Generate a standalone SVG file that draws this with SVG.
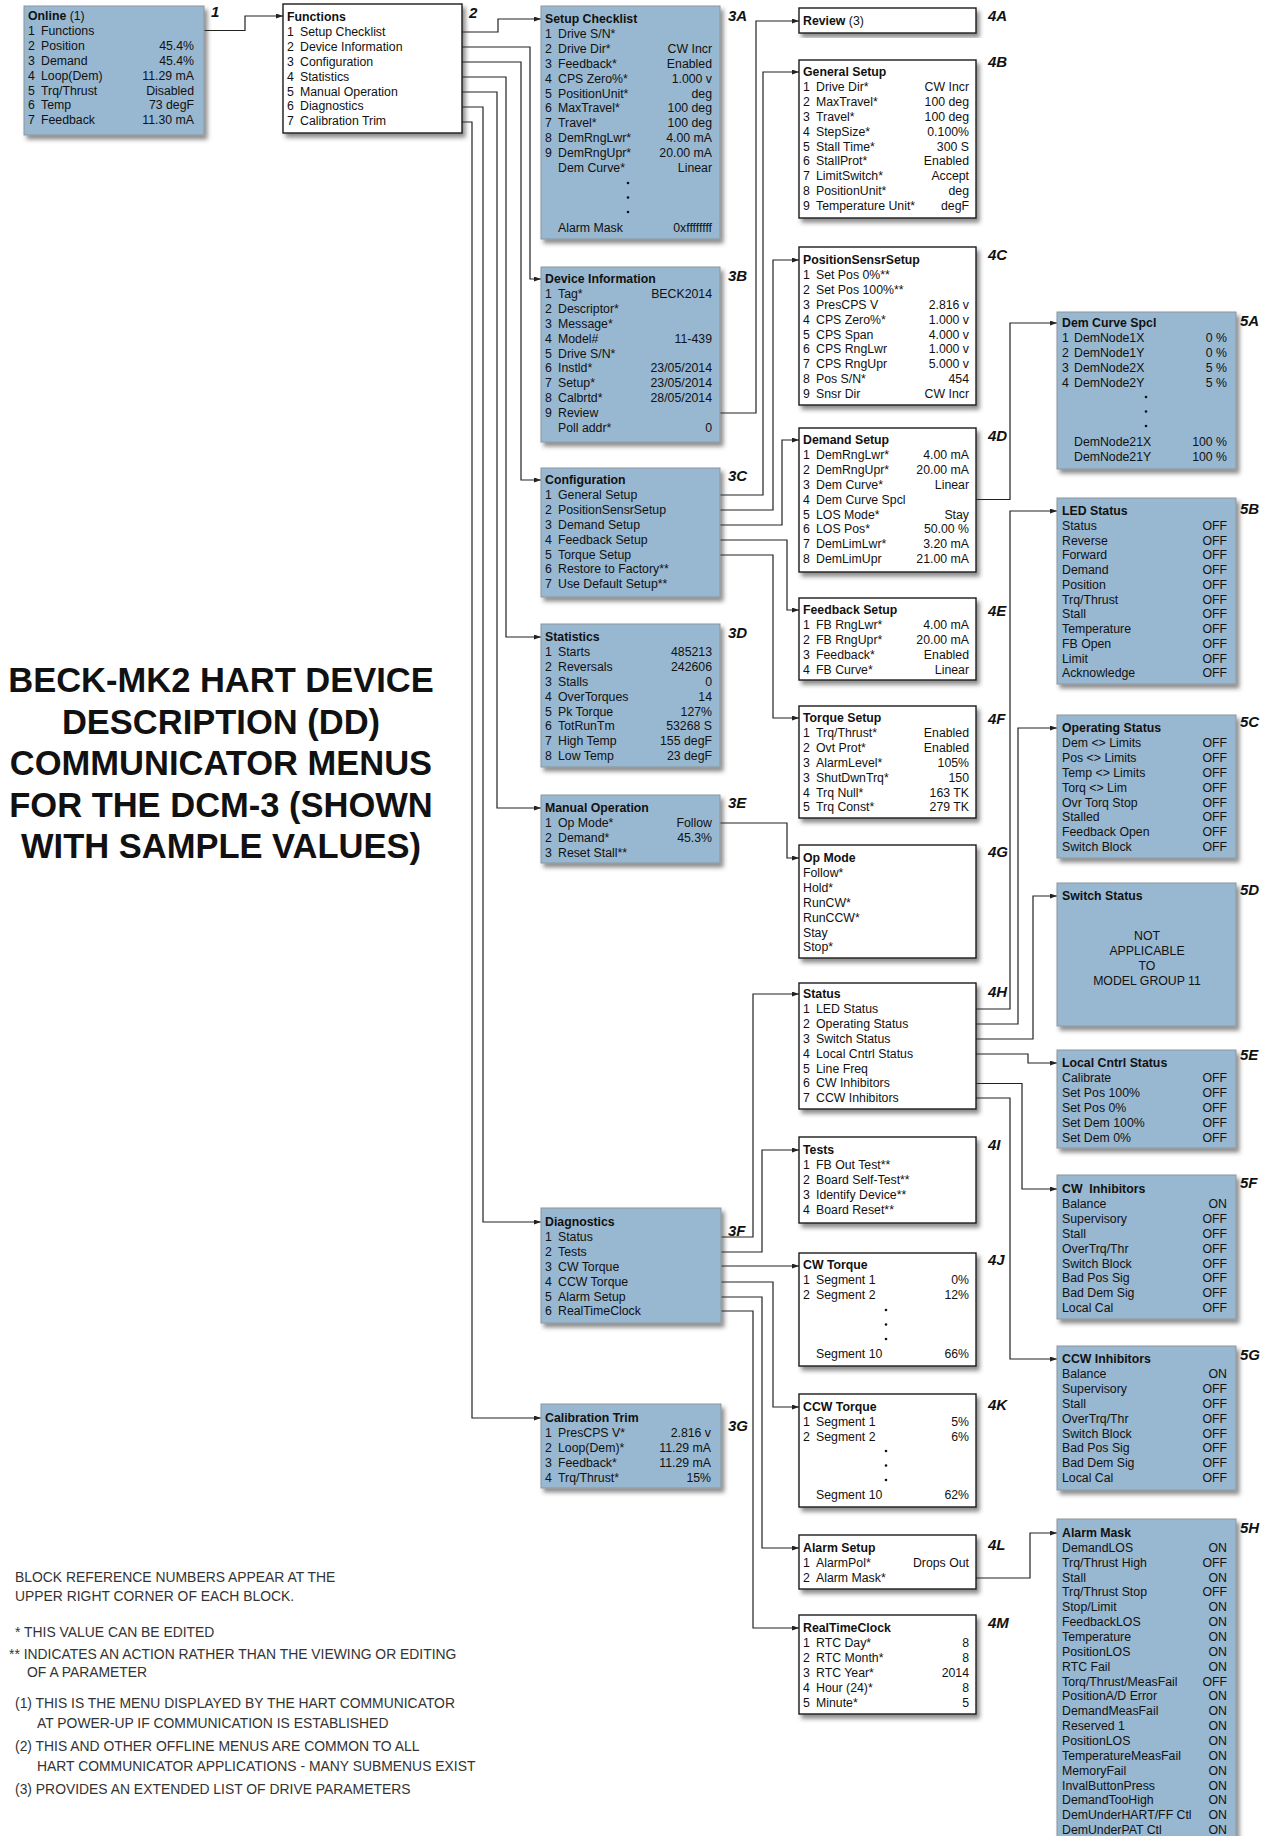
<svg xmlns="http://www.w3.org/2000/svg" width="1273" height="1836" viewBox="0 0 1273 1836">
<style>
text{font-family:"Liberation Sans",Arial,Helvetica,sans-serif;font-size:12.3px;fill:#111}
.bb{fill:#98b7d0;stroke:#8d969d;stroke-width:1}
.wb{fill:#fff;stroke:#1a1a1a;stroke-width:1.4}
.h{font-weight:bold}
.r{text-anchor:end}
.c{text-anchor:middle}
.lb{font-weight:bold;font-style:italic;font-size:15px}
.ttl{font-size:34.5px;font-weight:bold;text-anchor:middle;fill:#111}
.nt{font-size:13.9px;fill:#333}
.cn path{fill:none;stroke:#222;stroke-width:1.2;marker-end:url(#ar)}
</style>
<defs>
<filter id="sh" x="-10%" y="-10%" width="130%" height="130%">
<feDropShadow dx="3" dy="4" stdDeviation="2" flood-color="#333" flood-opacity="0.55"/>
</filter>
<marker id="ar" markerWidth="7" markerHeight="5" refX="7" refY="2.5" orient="auto" markerUnits="userSpaceOnUse">
<path d="M0,0 L7,2.5 L0,5 z" fill="#222"/>
</marker>
</defs>
<rect width="1273" height="1836" fill="#fff"/>

<!-- connectors -->
<g id="connectors" class="cn">
<path d="M204,30.5 H245 V16 H283"/>
<path d="M462,32 H498 V19 H541"/>
<path d="M462,47 H530 V279 H541"/>
<path d="M462,62 H521 V480 H541"/>
<path d="M462,77 H506 V637 H541"/>
<path d="M462,92 H497 V808 H541"/>
<path d="M462,107 H483 V1222 H541"/>
<path d="M462,122 H472 V1418 H541"/>
<path d="M720,413 H756 V21 H799"/>
<path d="M720,495 H763 V72 H799"/>
<path d="M720,510 H773 V260 H799"/>
<path d="M720,525 H782 V440 H799"/>
<path d="M720,540 H787 V610 H799"/>
<path d="M720,555 H773 V718 H799"/>
<path d="M720,823 H787 V858 H799"/>
<path d="M721,1237 H753 V994 H799"/>
<path d="M721,1252 H762 V1150 H799"/>
<path d="M721,1266 H799"/>
<path d="M721,1282 H773 V1407 H799"/>
<path d="M721,1297 H762 V1548 H799"/>
<path d="M721,1311 H753 V1628 H799"/>
<path d="M976,499.5 H1010 V323 H1057"/>
<path d="M976,1009 H1010 V511 H1057"/>
<path d="M976,1024 H1018 V728 H1057"/>
<path d="M976,1039 H1033 V896 H1057"/>
<path d="M976,1054 H1028 V1063 H1057"/>
<path d="M976,1083.5 H1022 V1189 H1057"/>
<path d="M976,1098 H1010 V1359 H1057"/>
<path d="M976,1578 H1030 V1533 H1057"/>
</g>

<!-- 1 Online -->
<g id="n1">
<rect class="bb" x="24" y="6" width="180" height="129" filter="url(#sh)"/>
<text x="28" y="20"><tspan class="h">Online</tspan> (1)</text>
<text x="28" y="34.9">1</text><text x="41" y="34.9">Functions</text>
<text x="28" y="49.8">2</text><text x="41" y="49.8">Position</text><text class="r" x="194" y="49.8">45.4%</text>
<text x="28" y="64.7">3</text><text x="41" y="64.7">Demand</text><text class="r" x="194" y="64.7">45.4%</text>
<text x="28" y="79.6">4</text><text x="41" y="79.6">Loop(Dem)</text><text class="r" x="194" y="79.6">11.29 mA</text>
<text x="28" y="94.5">5</text><text x="41" y="94.5">Trq/Thrust</text><text class="r" x="194" y="94.5">Disabled</text>
<text x="28" y="109.4">6</text><text x="41" y="109.4">Temp</text><text class="r" x="194" y="109.4">73 degF</text>
<text x="28" y="124.3">7</text><text x="41" y="124.3">Feedback</text><text class="r" x="194" y="124.3">11.30 mA</text>
<text class="lb" x="211" y="17">1</text>
</g>

<!-- 2 Functions -->
<g id="n2">
<rect class="wb" x="283" y="4" width="179" height="129" filter="url(#sh)"/>
<text class="h" x="287" y="21">Functions</text>
<text x="287" y="35.9">1</text><text x="300" y="35.9">Setup Checklist</text>
<text x="287" y="50.8">2</text><text x="300" y="50.8">Device Information</text>
<text x="287" y="65.7">3</text><text x="300" y="65.7">Configuration</text>
<text x="287" y="80.6">4</text><text x="300" y="80.6">Statistics</text>
<text x="287" y="95.5">5</text><text x="300" y="95.5">Manual Operation</text>
<text x="287" y="110.4">6</text><text x="300" y="110.4">Diagnostics</text>
<text x="287" y="125.3">7</text><text x="300" y="125.3">Calibration Trim</text>
<text class="lb" x="469" y="18">2</text>
</g>

<!-- 3A Setup Checklist -->
<g id="n3A">
<rect class="bb" x="541" y="6" width="179" height="233" filter="url(#sh)"/>
<text class="h" x="545" y="23">Setup Checklist</text>
<text x="545" y="37.9">1</text><text x="558" y="37.9">Drive S/N*</text>
<text x="545" y="52.8">2</text><text x="558" y="52.8">Drive Dir*</text><text class="r" x="712" y="52.8">CW Incr</text>
<text x="545" y="67.7">3</text><text x="558" y="67.7">Feedback*</text><text class="r" x="712" y="67.7">Enabled</text>
<text x="545" y="82.6">4</text><text x="558" y="82.6">CPS Zero%*</text><text class="r" x="712" y="82.6">1.000 v</text>
<text x="545" y="97.5">5</text><text x="558" y="97.5">PositionUnit*</text><text class="r" x="712" y="97.5">deg</text>
<text x="545" y="112.4">6</text><text x="558" y="112.4">MaxTravel*</text><text class="r" x="712" y="112.4">100 deg</text>
<text x="545" y="127.3">7</text><text x="558" y="127.3">Travel*</text><text class="r" x="712" y="127.3">100 deg</text>
<text x="545" y="142.2">8</text><text x="558" y="142.2">DemRngLwr*</text><text class="r" x="712" y="142.2">4.00 mA</text>
<text x="545" y="157.1">9</text><text x="558" y="157.1">DemRngUpr*</text><text class="r" x="712" y="157.1">20.00 mA</text>
<text x="558" y="172">Dem Curve*</text><text class="r" x="712" y="172">Linear</text>
<circle cx="628" cy="183" r="1.3" fill="#111"/><circle cx="628" cy="197.5" r="1.3" fill="#111"/><circle cx="628" cy="212" r="1.3" fill="#111"/>
<text x="558" y="232">Alarm Mask</text><text class="r" x="712" y="232">0xffffffff</text>
<text class="lb" x="728" y="21">3A</text>
</g>

<!-- 3B Device Information -->
<g id="n3B">
<rect class="bb" x="541" y="267" width="179" height="175" filter="url(#sh)"/>
<text class="h" x="545" y="283">Device Information</text>
<text x="545" y="297.9">1</text><text x="558" y="297.9">Tag*</text><text class="r" x="712" y="297.9">BECK2014</text>
<text x="545" y="312.8">2</text><text x="558" y="312.8">Descriptor*</text>
<text x="545" y="327.7">3</text><text x="558" y="327.7">Message*</text>
<text x="545" y="342.6">4</text><text x="558" y="342.6">Model#</text><text class="r" x="712" y="342.6">11-439</text>
<text x="545" y="357.5">5</text><text x="558" y="357.5">Drive S/N*</text>
<text x="545" y="372.4">6</text><text x="558" y="372.4">Instld*</text><text class="r" x="712" y="372.4">23/05/2014</text>
<text x="545" y="387.3">7</text><text x="558" y="387.3">Setup*</text><text class="r" x="712" y="387.3">23/05/2014</text>
<text x="545" y="402.2">8</text><text x="558" y="402.2">Calbrtd*</text><text class="r" x="712" y="402.2">28/05/2014</text>
<text x="545" y="417.1">9</text><text x="558" y="417.1">Review</text>
<text x="558" y="432">Poll addr*</text><text class="r" x="712" y="432">0</text>
<text class="lb" x="728" y="281">3B</text>
</g>

<!-- 3C Configuration -->
<g id="n3C">
<rect class="bb" x="541" y="468" width="179" height="129" filter="url(#sh)"/>
<text class="h" x="545" y="484">Configuration</text>
<text x="545" y="498.9">1</text><text x="558" y="498.9">General Setup</text>
<text x="545" y="513.8">2</text><text x="558" y="513.8">PositionSensrSetup</text>
<text x="545" y="528.7">3</text><text x="558" y="528.7">Demand Setup</text>
<text x="545" y="543.6">4</text><text x="558" y="543.6">Feedback Setup</text>
<text x="545" y="558.5">5</text><text x="558" y="558.5">Torque Setup</text>
<text x="545" y="573.4">6</text><text x="558" y="573.4">Restore to Factory**</text>
<text x="545" y="588.3">7</text><text x="558" y="588.3">Use Default Setup**</text>
<text class="lb" x="728" y="481">3C</text>
</g>

<!-- 3D Statistics -->
<g id="n3D">
<rect class="bb" x="541" y="624" width="179" height="143" filter="url(#sh)"/>
<text class="h" x="545" y="641">Statistics</text>
<text x="545" y="655.9">1</text><text x="558" y="655.9">Starts</text><text class="r" x="712" y="655.9">485213</text>
<text x="545" y="670.8">2</text><text x="558" y="670.8">Reversals</text><text class="r" x="712" y="670.8">242606</text>
<text x="545" y="685.7">3</text><text x="558" y="685.7">Stalls</text><text class="r" x="712" y="685.7">0</text>
<text x="545" y="700.6">4</text><text x="558" y="700.6">OverTorques</text><text class="r" x="712" y="700.6">14</text>
<text x="545" y="715.5">5</text><text x="558" y="715.5">Pk Torque</text><text class="r" x="712" y="715.5">127%</text>
<text x="545" y="730.4">6</text><text x="558" y="730.4">TotRunTm</text><text class="r" x="712" y="730.4">53268 S</text>
<text x="545" y="745.3">7</text><text x="558" y="745.3">High Temp</text><text class="r" x="712" y="745.3">155 degF</text>
<text x="545" y="760.2">8</text><text x="558" y="760.2">Low Temp</text><text class="r" x="712" y="760.2">23 degF</text>
<text class="lb" x="728" y="638">3D</text>
</g>

<!-- 3E Manual Operation -->
<g id="n3E">
<rect class="bb" x="541" y="795" width="179" height="68" filter="url(#sh)"/>
<text class="h" x="545" y="812">Manual Operation</text>
<text x="545" y="826.9">1</text><text x="558" y="826.9">Op Mode*</text><text class="r" x="712" y="826.9">Follow</text>
<text x="545" y="841.8">2</text><text x="558" y="841.8">Demand*</text><text class="r" x="712" y="841.8">45.3%</text>
<text x="545" y="856.7">3</text><text x="558" y="856.7">Reset Stall**</text>
<text class="lb" x="728" y="808">3E</text>
</g>

<!-- 3F Diagnostics -->
<g id="n3F">
<rect class="bb" x="541" y="1208" width="180" height="115" filter="url(#sh)"/>
<text class="h" x="545" y="1226">Diagnostics</text>
<text x="545" y="1240.9">1</text><text x="558" y="1240.9">Status</text>
<text x="545" y="1255.8">2</text><text x="558" y="1255.8">Tests</text>
<text x="545" y="1270.7">3</text><text x="558" y="1270.7">CW Torque</text>
<text x="545" y="1285.6">4</text><text x="558" y="1285.6">CCW Torque</text>
<text x="545" y="1300.5">5</text><text x="558" y="1300.5">Alarm Setup</text>
<text x="545" y="1315.4">6</text><text x="558" y="1315.4">RealTimeClock</text>
<text class="lb" x="728" y="1236">3F</text>
</g>

<!-- 3G Calibration Trim -->
<g id="n3G">
<rect class="bb" x="541" y="1404" width="180" height="84" filter="url(#sh)"/>
<text class="h" x="545" y="1422">Calibration Trim</text>
<text x="545" y="1436.9">1</text><text x="558" y="1436.9">PresCPS V*</text><text class="r" x="711" y="1436.9">2.816 v</text>
<text x="545" y="1451.8">2</text><text x="558" y="1451.8">Loop(Dem)*</text><text class="r" x="711" y="1451.8">11.29 mA</text>
<text x="545" y="1466.7">3</text><text x="558" y="1466.7">Feedback*</text><text class="r" x="711" y="1466.7">11.29 mA</text>
<text x="545" y="1481.6">4</text><text x="558" y="1481.6">Trq/Thrust*</text><text class="r" x="711" y="1481.6">15%</text>
<text class="lb" x="728" y="1431">3G</text>
</g>

<!-- 4A Review -->
<g id="n4A">
<rect class="wb" x="799" y="8" width="177" height="25" filter="url(#sh)"/>
<text x="803" y="25"><tspan class="h">Review</tspan> (3)</text>
<text class="lb" x="988" y="21">4A</text>
</g>

<!-- 4B General Setup -->
<g id="n4B">
<rect class="wb" x="799" y="60" width="177" height="158" filter="url(#sh)"/>
<text class="h" x="803" y="76">General Setup</text>
<text x="803" y="90.9">1</text><text x="816" y="90.9">Drive Dir*</text><text class="r" x="969" y="90.9">CW Incr</text>
<text x="803" y="105.8">2</text><text x="816" y="105.8">MaxTravel*</text><text class="r" x="969" y="105.8">100 deg</text>
<text x="803" y="120.7">3</text><text x="816" y="120.7">Travel*</text><text class="r" x="969" y="120.7">100 deg</text>
<text x="803" y="135.6">4</text><text x="816" y="135.6">StepSize*</text><text class="r" x="969" y="135.6">0.100%</text>
<text x="803" y="150.5">5</text><text x="816" y="150.5">Stall Time*</text><text class="r" x="969" y="150.5">300 S</text>
<text x="803" y="165.4">6</text><text x="816" y="165.4">StallProt*</text><text class="r" x="969" y="165.4">Enabled</text>
<text x="803" y="180.3">7</text><text x="816" y="180.3">LimitSwitch*</text><text class="r" x="969" y="180.3">Accept</text>
<text x="803" y="195.2">8</text><text x="816" y="195.2">PositionUnit*</text><text class="r" x="969" y="195.2">deg</text>
<text x="803" y="210.1">9</text><text x="816" y="210.1">Temperature Unit*</text><text class="r" x="969" y="210.1">degF</text>
<text class="lb" x="988" y="67">4B</text>
</g>

<!-- 4C PositionSensrSetup -->
<g id="n4C">
<rect class="wb" x="799" y="247" width="177" height="158" filter="url(#sh)"/>
<text class="h" x="803" y="264">PositionSensrSetup</text>
<text x="803" y="278.9">1</text><text x="816" y="278.9">Set Pos 0%**</text>
<text x="803" y="293.8">2</text><text x="816" y="293.8">Set Pos 100%**</text>
<text x="803" y="308.7">3</text><text x="816" y="308.7">PresCPS V</text><text class="r" x="969" y="308.7">2.816 v</text>
<text x="803" y="323.6">4</text><text x="816" y="323.6">CPS Zero%*</text><text class="r" x="969" y="323.6">1.000 v</text>
<text x="803" y="338.5">5</text><text x="816" y="338.5">CPS Span</text><text class="r" x="969" y="338.5">4.000 v</text>
<text x="803" y="353.4">6</text><text x="816" y="353.4">CPS RngLwr</text><text class="r" x="969" y="353.4">1.000 v</text>
<text x="803" y="368.3">7</text><text x="816" y="368.3">CPS RngUpr</text><text class="r" x="969" y="368.3">5.000 v</text>
<text x="803" y="383.2">8</text><text x="816" y="383.2">Pos S/N*</text><text class="r" x="969" y="383.2">454</text>
<text x="803" y="398.1">9</text><text x="816" y="398.1">Snsr Dir</text><text class="r" x="969" y="398.1">CW Incr</text>
<text class="lb" x="988" y="260">4C</text>
</g>

<!-- 4D Demand Setup -->
<g id="n4D">
<rect class="wb" x="799" y="428" width="177" height="144" filter="url(#sh)"/>
<text class="h" x="803" y="444">Demand Setup</text>
<text x="803" y="458.9">1</text><text x="816" y="458.9">DemRngLwr*</text><text class="r" x="969" y="458.9">4.00 mA</text>
<text x="803" y="473.8">2</text><text x="816" y="473.8">DemRngUpr*</text><text class="r" x="969" y="473.8">20.00 mA</text>
<text x="803" y="488.7">3</text><text x="816" y="488.7">Dem Curve*</text><text class="r" x="969" y="488.7">Linear</text>
<text x="803" y="503.6">4</text><text x="816" y="503.6">Dem Curve Spcl</text>
<text x="803" y="518.5">5</text><text x="816" y="518.5">LOS Mode*</text><text class="r" x="969" y="518.5">Stay</text>
<text x="803" y="533.4">6</text><text x="816" y="533.4">LOS Pos*</text><text class="r" x="969" y="533.4">50.00 %</text>
<text x="803" y="548.3">7</text><text x="816" y="548.3">DemLimLwr*</text><text class="r" x="969" y="548.3">3.20 mA</text>
<text x="803" y="563.2">8</text><text x="816" y="563.2">DemLimUpr</text><text class="r" x="969" y="563.2">21.00 mA</text>
<text class="lb" x="988" y="441">4D</text>
</g>

<!-- 4E Feedback Setup -->
<g id="n4E">
<rect class="wb" x="799" y="598" width="177" height="82" filter="url(#sh)"/>
<text class="h" x="803" y="614">Feedback Setup</text>
<text x="803" y="628.9">1</text><text x="816" y="628.9">FB RngLwr*</text><text class="r" x="969" y="628.9">4.00 mA</text>
<text x="803" y="643.8">2</text><text x="816" y="643.8">FB RngUpr*</text><text class="r" x="969" y="643.8">20.00 mA</text>
<text x="803" y="658.7">3</text><text x="816" y="658.7">Feedback*</text><text class="r" x="969" y="658.7">Enabled</text>
<text x="803" y="673.6">4</text><text x="816" y="673.6">FB Curve*</text><text class="r" x="969" y="673.6">Linear</text>
<text class="lb" x="988" y="616">4E</text>
</g>

<!-- 4F Torque Setup -->
<g id="n4F">
<rect class="wb" x="799" y="706" width="177" height="112" filter="url(#sh)"/>
<text class="h" x="803" y="722">Torque Setup</text>
<text x="803" y="736.9">1</text><text x="816" y="736.9">Trq/Thrust*</text><text class="r" x="969" y="736.9">Enabled</text>
<text x="803" y="751.8">2</text><text x="816" y="751.8">Ovt Prot*</text><text class="r" x="969" y="751.8">Enabled</text>
<text x="803" y="766.7">3</text><text x="816" y="766.7">AlarmLevel*</text><text class="r" x="969" y="766.7">105%</text>
<text x="803" y="781.6">3</text><text x="816" y="781.6">ShutDwnTrq*</text><text class="r" x="969" y="781.6">150</text>
<text x="803" y="796.5">4</text><text x="816" y="796.5">Trq Null*</text><text class="r" x="969" y="796.5">163 TK</text>
<text x="803" y="811.4">5</text><text x="816" y="811.4">Trq Const*</text><text class="r" x="969" y="811.4">279 TK</text>
<text class="lb" x="988" y="724">4F</text>
</g>

<!-- 4G Op Mode -->
<g id="n4G">
<rect class="wb" x="799" y="845" width="177" height="113" filter="url(#sh)"/>
<text class="h" x="803" y="862">Op Mode</text>
<text x="803" y="876.9">Follow*</text>
<text x="803" y="891.8">Hold*</text>
<text x="803" y="906.7">RunCW*</text>
<text x="803" y="921.6">RunCCW*</text>
<text x="803" y="936.5">Stay</text>
<text x="803" y="951.4">Stop*</text>
<text class="lb" x="988" y="857">4G</text>
</g>

<!-- 4H Status -->
<g id="n4H">
<rect class="wb" x="799" y="983" width="177" height="126" filter="url(#sh)"/>
<text class="h" x="803" y="998">Status</text>
<text x="803" y="1012.9">1</text><text x="816" y="1012.9">LED Status</text>
<text x="803" y="1027.8">2</text><text x="816" y="1027.8">Operating Status</text>
<text x="803" y="1042.7">3</text><text x="816" y="1042.7">Switch Status</text>
<text x="803" y="1057.6">4</text><text x="816" y="1057.6">Local Cntrl Status</text>
<text x="803" y="1072.5">5</text><text x="816" y="1072.5">Line Freq</text>
<text x="803" y="1087.4">6</text><text x="816" y="1087.4">CW Inhibitors</text>
<text x="803" y="1102.3">7</text><text x="816" y="1102.3">CCW Inhibitors</text>
<text class="lb" x="988" y="997">4H</text>
</g>

<!-- 4I Tests -->
<g id="n4I">
<rect class="wb" x="799" y="1137" width="177" height="86" filter="url(#sh)"/>
<text class="h" x="803" y="1154">Tests</text>
<text x="803" y="1168.9">1</text><text x="816" y="1168.9">FB Out Test**</text>
<text x="803" y="1183.8">2</text><text x="816" y="1183.8">Board Self-Test**</text>
<text x="803" y="1198.7">3</text><text x="816" y="1198.7">Identify Device**</text>
<text x="803" y="1213.6">4</text><text x="816" y="1213.6">Board Reset**</text>
<text class="lb" x="988" y="1150">4I</text>
</g>

<!-- 4J CW Torque -->
<g id="n4J">
<rect class="wb" x="799" y="1253" width="177" height="113" filter="url(#sh)"/>
<text class="h" x="803" y="1269">CW Torque</text>
<text x="803" y="1283.9">1</text><text x="816" y="1283.9">Segment 1</text><text class="r" x="969" y="1283.9">0%</text>
<text x="803" y="1298.8">2</text><text x="816" y="1298.8">Segment 2</text><text class="r" x="969" y="1298.8">12%</text>
<circle cx="886" cy="1310" r="1.3" fill="#111"/><circle cx="886" cy="1324.5" r="1.3" fill="#111"/><circle cx="886" cy="1339" r="1.3" fill="#111"/>
<text x="816" y="1358">Segment 10</text><text class="r" x="969" y="1358">66%</text>
<text class="lb" x="988" y="1265">4J</text>
</g>

<!-- 4K CCW Torque -->
<g id="n4K">
<rect class="wb" x="799" y="1394" width="177" height="113" filter="url(#sh)"/>
<text class="h" x="803" y="1411">CCW Torque</text>
<text x="803" y="1425.9">1</text><text x="816" y="1425.9">Segment 1</text><text class="r" x="969" y="1425.9">5%</text>
<text x="803" y="1440.8">2</text><text x="816" y="1440.8">Segment 2</text><text class="r" x="969" y="1440.8">6%</text>
<circle cx="886" cy="1451" r="1.3" fill="#111"/><circle cx="886" cy="1465.5" r="1.3" fill="#111"/><circle cx="886" cy="1480" r="1.3" fill="#111"/>
<text x="816" y="1499">Segment 10</text><text class="r" x="969" y="1499">62%</text>
<text class="lb" x="988" y="1410">4K</text>
</g>

<!-- 4L Alarm Setup -->
<g id="n4L">
<rect class="wb" x="799" y="1535" width="177" height="54" filter="url(#sh)"/>
<text class="h" x="803" y="1552">Alarm Setup</text>
<text x="803" y="1566.9">1</text><text x="816" y="1566.9">AlarmPol*</text><text class="r" x="969" y="1566.9">Drops Out</text>
<text x="803" y="1581.8">2</text><text x="816" y="1581.8">Alarm Mask*</text>
<text class="lb" x="988" y="1550">4L</text>
</g>

<!-- 4M RealTimeClock -->
<g id="n4M">
<rect class="wb" x="799" y="1615" width="177" height="99" filter="url(#sh)"/>
<text class="h" x="803" y="1632">RealTimeClock</text>
<text x="803" y="1646.9">1</text><text x="816" y="1646.9">RTC Day*</text><text class="r" x="969" y="1646.9">8</text>
<text x="803" y="1661.8">2</text><text x="816" y="1661.8">RTC Month*</text><text class="r" x="969" y="1661.8">8</text>
<text x="803" y="1676.7">3</text><text x="816" y="1676.7">RTC Year*</text><text class="r" x="969" y="1676.7">2014</text>
<text x="803" y="1691.6">4</text><text x="816" y="1691.6">Hour (24)*</text><text class="r" x="969" y="1691.6">8</text>
<text x="803" y="1706.5">5</text><text x="816" y="1706.5">Minute*</text><text class="r" x="969" y="1706.5">5</text>
<text class="lb" x="988" y="1628">4M</text>
</g>

<!-- 5A Dem Curve Spcl -->
<g id="n5A">
<rect class="bb" x="1057" y="312" width="179" height="157" filter="url(#sh)"/>
<text class="h" x="1062" y="327">Dem Curve Spcl</text>
<text x="1062" y="341.9">1</text><text x="1074" y="341.9">DemNode1X</text><text class="r" x="1227" y="341.9">0 %</text>
<text x="1062" y="356.8">2</text><text x="1074" y="356.8">DemNode1Y</text><text class="r" x="1227" y="356.8">0 %</text>
<text x="1062" y="371.7">3</text><text x="1074" y="371.7">DemNode2X</text><text class="r" x="1227" y="371.7">5 %</text>
<text x="1062" y="386.6">4</text><text x="1074" y="386.6">DemNode2Y</text><text class="r" x="1227" y="386.6">5 %</text>
<circle cx="1146" cy="397" r="1.3" fill="#111"/><circle cx="1146" cy="411.5" r="1.3" fill="#111"/><circle cx="1146" cy="426" r="1.3" fill="#111"/>
<text x="1074" y="446">DemNode21X</text><text class="r" x="1227" y="446">100 %</text>
<text x="1074" y="461">DemNode21Y</text><text class="r" x="1227" y="461">100 %</text>
<text class="lb" x="1240" y="326">5A</text>
</g>

<!-- 5B LED Status -->
<g id="n5B">
<rect class="bb" x="1057" y="498" width="179" height="186" filter="url(#sh)"/>
<text class="h" x="1062" y="515">LED Status</text>
<text x="1062" y="529.8">Status</text><text class="r" x="1227" y="529.8">OFF</text>
<text x="1062" y="544.5">Reverse</text><text class="r" x="1227" y="544.5">OFF</text>
<text x="1062" y="559.3">Forward</text><text class="r" x="1227" y="559.3">OFF</text>
<text x="1062" y="574">Demand</text><text class="r" x="1227" y="574">OFF</text>
<text x="1062" y="588.8">Position</text><text class="r" x="1227" y="588.8">OFF</text>
<text x="1062" y="603.5">Trq/Thrust</text><text class="r" x="1227" y="603.5">OFF</text>
<text x="1062" y="618.3">Stall</text><text class="r" x="1227" y="618.3">OFF</text>
<text x="1062" y="633">Temperature</text><text class="r" x="1227" y="633">OFF</text>
<text x="1062" y="647.8">FB Open</text><text class="r" x="1227" y="647.8">OFF</text>
<text x="1062" y="662.5">Limit</text><text class="r" x="1227" y="662.5">OFF</text>
<text x="1062" y="677.3">Acknowledge</text><text class="r" x="1227" y="677.3">OFF</text>
<text class="lb" x="1240" y="514">5B</text>
</g>

<!-- 5C Operating Status -->
<g id="n5C">
<rect class="bb" x="1057" y="715" width="179" height="143" filter="url(#sh)"/>
<text class="h" x="1062" y="732">Operating Status</text>
<text x="1062" y="746.9">Dem &lt;&gt; Limits</text><text class="r" x="1227" y="746.9">OFF</text>
<text x="1062" y="761.8">Pos &lt;&gt; Limits</text><text class="r" x="1227" y="761.8">OFF</text>
<text x="1062" y="776.7">Temp &lt;&gt; Limits</text><text class="r" x="1227" y="776.7">OFF</text>
<text x="1062" y="791.6">Torq &lt;&gt; Lim</text><text class="r" x="1227" y="791.6">OFF</text>
<text x="1062" y="806.5">Ovr Torq Stop</text><text class="r" x="1227" y="806.5">OFF</text>
<text x="1062" y="821.4">Stalled</text><text class="r" x="1227" y="821.4">OFF</text>
<text x="1062" y="836.3">Feedback Open</text><text class="r" x="1227" y="836.3">OFF</text>
<text x="1062" y="851.2">Switch Block</text><text class="r" x="1227" y="851.2">OFF</text>
<text class="lb" x="1240" y="727">5C</text>
</g>

<!-- 5D Switch Status -->
<g id="n5D">
<rect class="bb" x="1057" y="883" width="179" height="143" filter="url(#sh)"/>
<text class="h" x="1062" y="900">Switch Status</text>
<text class="c" x="1147" y="940">NOT</text>
<text class="c" x="1147" y="955">APPLICABLE</text>
<text class="c" x="1147" y="970">TO</text>
<text class="c" x="1147" y="985">MODEL GROUP 11</text>
<text class="lb" x="1240" y="895">5D</text>
</g>

<!-- 5E Local Cntrl Status -->
<g id="n5E">
<rect class="bb" x="1057" y="1050" width="179" height="98" filter="url(#sh)"/>
<text class="h" x="1062" y="1067">Local Cntrl Status</text>
<text x="1062" y="1081.9">Calibrate</text><text class="r" x="1227" y="1081.9">OFF</text>
<text x="1062" y="1096.8">Set Pos 100%</text><text class="r" x="1227" y="1096.8">OFF</text>
<text x="1062" y="1111.7">Set Pos 0%</text><text class="r" x="1227" y="1111.7">OFF</text>
<text x="1062" y="1126.6">Set Dem 100%</text><text class="r" x="1227" y="1126.6">OFF</text>
<text x="1062" y="1141.5">Set Dem 0%</text><text class="r" x="1227" y="1141.5">OFF</text>
<text class="lb" x="1240" y="1060">5E</text>
</g>

<!-- 5F CW Inhibitors -->
<g id="n5F">
<rect class="bb" x="1057" y="1175" width="179" height="144" filter="url(#sh)"/>
<text class="h" x="1062" y="1193" xml:space="preserve">CW  Inhibitors</text>
<text x="1062" y="1207.9">Balance</text><text class="r" x="1227" y="1207.9">ON</text>
<text x="1062" y="1222.8">Supervisory</text><text class="r" x="1227" y="1222.8">OFF</text>
<text x="1062" y="1237.7">Stall</text><text class="r" x="1227" y="1237.7">OFF</text>
<text x="1062" y="1252.6">OverTrq/Thr</text><text class="r" x="1227" y="1252.6">OFF</text>
<text x="1062" y="1267.5">Switch Block</text><text class="r" x="1227" y="1267.5">OFF</text>
<text x="1062" y="1282.4">Bad Pos Sig</text><text class="r" x="1227" y="1282.4">OFF</text>
<text x="1062" y="1297.3">Bad Dem Sig</text><text class="r" x="1227" y="1297.3">OFF</text>
<text x="1062" y="1312.2">Local Cal</text><text class="r" x="1227" y="1312.2">OFF</text>
<text class="lb" x="1240" y="1188">5F</text>
</g>

<!-- 5G CCW Inhibitors -->
<g id="n5G">
<rect class="bb" x="1057" y="1346" width="179" height="144" filter="url(#sh)"/>
<text class="h" x="1062" y="1363">CCW Inhibitors</text>
<text x="1062" y="1377.9">Balance</text><text class="r" x="1227" y="1377.9">ON</text>
<text x="1062" y="1392.8">Supervisory</text><text class="r" x="1227" y="1392.8">OFF</text>
<text x="1062" y="1407.7">Stall</text><text class="r" x="1227" y="1407.7">OFF</text>
<text x="1062" y="1422.6">OverTrq/Thr</text><text class="r" x="1227" y="1422.6">OFF</text>
<text x="1062" y="1437.5">Switch Block</text><text class="r" x="1227" y="1437.5">OFF</text>
<text x="1062" y="1452.4">Bad Pos Sig</text><text class="r" x="1227" y="1452.4">OFF</text>
<text x="1062" y="1467.3">Bad Dem Sig</text><text class="r" x="1227" y="1467.3">OFF</text>
<text x="1062" y="1482.2">Local Cal</text><text class="r" x="1227" y="1482.2">OFF</text>
<text class="lb" x="1240" y="1360">5G</text>
</g>

<!-- 5H Alarm Mask -->
<g id="n5H">
<rect class="bb" x="1057" y="1519" width="179" height="330" filter="url(#sh)"/>
<text class="h" x="1062" y="1537">Alarm Mask</text>
<text x="1062" y="1551.9">DemandLOS</text><text class="r" x="1227" y="1551.9">ON</text>
<text x="1062" y="1566.7">Trq/Thrust High</text><text class="r" x="1227" y="1566.7">OFF</text>
<text x="1062" y="1581.6">Stall</text><text class="r" x="1227" y="1581.6">ON</text>
<text x="1062" y="1596.4">Trq/Thrust Stop</text><text class="r" x="1227" y="1596.4">OFF</text>
<text x="1062" y="1611.3">Stop/Limit</text><text class="r" x="1227" y="1611.3">ON</text>
<text x="1062" y="1626.1">FeedbackLOS</text><text class="r" x="1227" y="1626.1">ON</text>
<text x="1062" y="1641">Temperature</text><text class="r" x="1227" y="1641">ON</text>
<text x="1062" y="1655.8">PositionLOS</text><text class="r" x="1227" y="1655.8">ON</text>
<text x="1062" y="1670.7">RTC Fail</text><text class="r" x="1227" y="1670.7">ON</text>
<text x="1062" y="1685.5">Torq/Thrust/MeasFail</text><text class="r" x="1227" y="1685.5">OFF</text>
<text x="1062" y="1700.4">PositionA/D Error</text><text class="r" x="1227" y="1700.4">ON</text>
<text x="1062" y="1715.2">DemandMeasFail</text><text class="r" x="1227" y="1715.2">ON</text>
<text x="1062" y="1730.1">Reserved 1</text><text class="r" x="1227" y="1730.1">ON</text>
<text x="1062" y="1744.9">PositionLOS</text><text class="r" x="1227" y="1744.9">ON</text>
<text x="1062" y="1759.8">TemperatureMeasFail</text><text class="r" x="1227" y="1759.8">ON</text>
<text x="1062" y="1774.6">MemoryFail</text><text class="r" x="1227" y="1774.6">ON</text>
<text x="1062" y="1789.5">InvalButtonPress</text><text class="r" x="1227" y="1789.5">ON</text>
<text x="1062" y="1804.3">DemandTooHigh</text><text class="r" x="1227" y="1804.3">ON</text>
<text x="1062" y="1819.2">DemUnderHART/FF Ctl</text><text class="r" x="1227" y="1819.2">ON</text>
<text x="1062" y="1834">DemUnderPAT Ctl</text><text class="r" x="1227" y="1834">ON</text>
<text class="lb" x="1240" y="1533">5H</text>
</g>

<!-- title -->
<g id="title">
<text class="ttl" x="221" y="692">BECK-MK2 HART DEVICE</text>
<text class="ttl" x="221" y="734">DESCRIPTION (DD)</text>
<text class="ttl" x="221" y="775">COMMUNICATOR MENUS</text>
<text class="ttl" x="221" y="817">FOR THE DCM-3 (SHOWN</text>
<text class="ttl" x="221" y="858">WITH SAMPLE VALUES)</text>
</g>

<!-- notes -->
<g id="notes">
<text class="nt" x="15" y="1582">BLOCK REFERENCE NUMBERS APPEAR AT THE</text>
<text class="nt" x="15" y="1601">UPPER RIGHT CORNER OF EACH BLOCK.</text>
<text class="nt" x="15" y="1637">* THIS VALUE CAN BE EDITED</text>
<text class="nt" x="9" y="1659">** INDICATES AN ACTION RATHER THAN THE VIEWING OR EDITING</text>
<text class="nt" x="27" y="1677">OF A PARAMETER</text>
<text class="nt" x="15" y="1708">(1) THIS IS THE MENU DISPLAYED BY THE HART COMMUNICATOR</text>
<text class="nt" x="37" y="1728">AT POWER-UP IF COMMUNICATION IS ESTABLISHED</text>
<text class="nt" x="15" y="1751">(2) THIS AND OTHER OFFLINE MENUS ARE COMMON TO ALL</text>
<text class="nt" x="37" y="1771">HART COMMUNICATOR APPLICATIONS - MANY SUBMENUS EXIST</text>
<text class="nt" x="15" y="1794">(3) PROVIDES AN EXTENDED LIST OF DRIVE PARAMETERS</text>
</g>
</svg>
